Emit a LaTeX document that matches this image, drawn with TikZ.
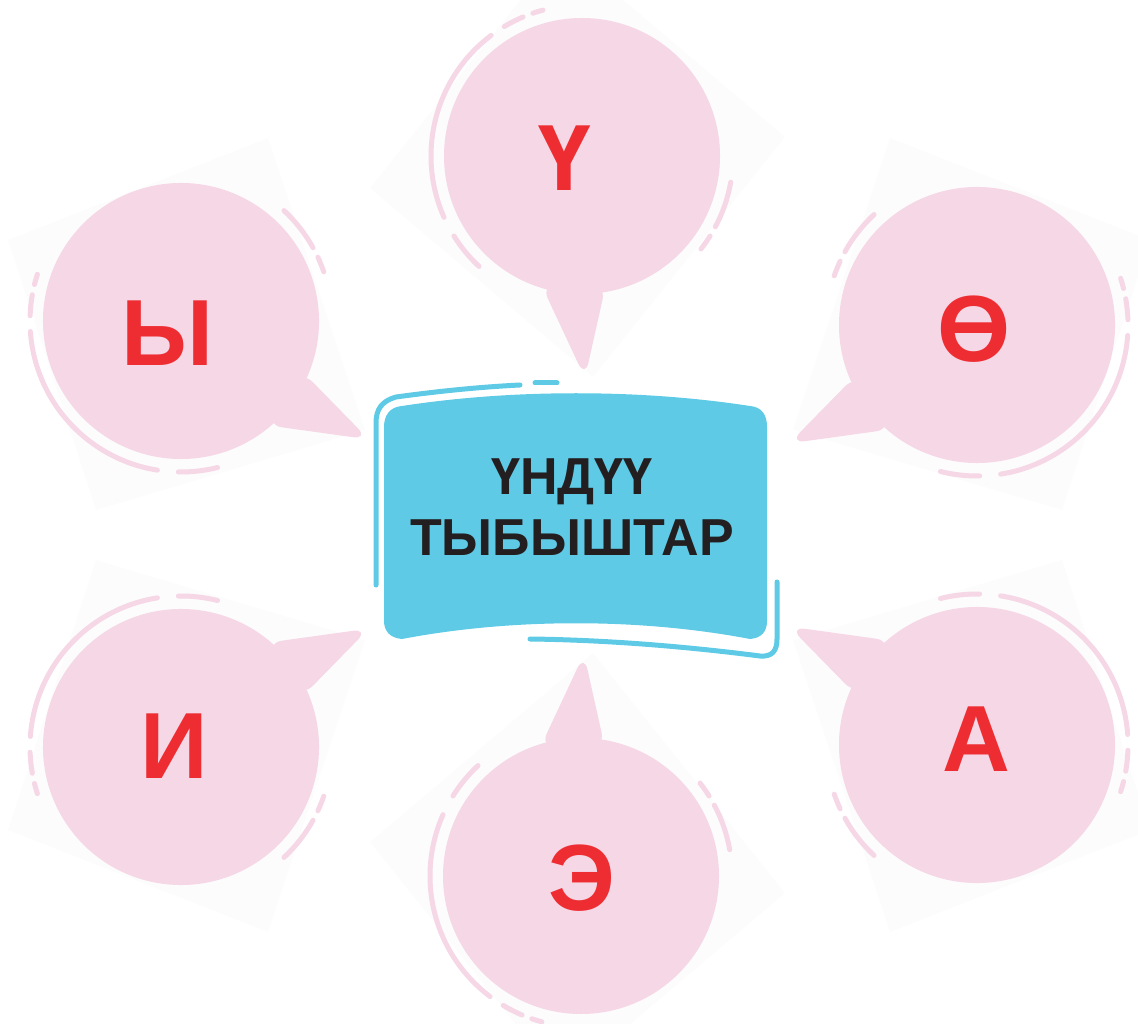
\documentclass[tikz,border=0pt]{standalone}
\usepackage{fontspec}
\setmainfont{Liberation Sans}
\usepackage{tikz}
\usetikzlibrary{calc,positioning}
\definecolor{bubblepink}{HTML}{F6D7E6}
\definecolor{letterred}{HTML}{EE2D32}
\definecolor{boxblue}{HTML}{5ECAE6}
\definecolor{titleink}{HTML}{231F20}
\definecolor{squaregray}{HTML}{FCFCFC}

\tikzset{
  bubble/.pic={
    \fill[bubblepink] (0,0) circle[radius=138];
    \fill[bubblepink,rounded corners=8] (-41,-128) -- (3,-222) -- (24,-128) -- cycle;
    \foreach \a/\b in {127/204,113/121,105/109,212/227,-28/-10,-38/-32}
      \draw[bubblepink,line width=2.5pt,line cap=round] (\a:151) arc[start angle=\a,end angle=\b,radius=151];
  },
  letter/.style={text=letterred,font=\bfseries\fontsize{47}{50}\selectfont,inner sep=0pt},
  frameline/.style={boxblue,line width=2.5pt,line cap=round},
  backsquare/.style={fill=squaregray}
}

\begin{document}
\begin{tikzpicture}[x=0.5pt,y=0.5pt]
    \useasboundingbox (0,0) rectangle (1138,1023);
    % faint squares behind the bubbles
    \path[backsquare] (370,835) -- (562,1075) -- (785,886) -- (593,646) -- cycle;
    \path[backsquare] (370,181) -- (593,370) -- (785,130) -- (562,-59) -- cycle;
    \path[backsquare] (8,783) -- (268,885) -- (365,593) -- (96,513) -- cycle;
    \path[backsquare] (1150,783) -- (890,885) -- (793,593) -- (1062,513) -- cycle;
    \path[backsquare] (8,193) -- (268,91) -- (365,383) -- (96,463) -- cycle;
    \path[backsquare] (1150,193) -- (890,91) -- (793,383) -- (1062,463) -- cycle;
    % bubbles
    \pic at (582,867) {bubble};
    \pic[rotate=57] at (181,702) {bubble};
    \pic[xscale=-1,rotate=57] at (977,698) {bubble};
    \pic[yscale=-1,rotate=57] at (181,276) {bubble};
    \pic[rotate=237] at (977,278) {bubble};
    \pic[yscale=-1] at (581,147) {bubble};
    \node[letter] (U) at (565,865) {Ү};
    \node[letter] (Y) at (167.5,689.5) {Ы};
    \node[letter] (O) at (974.5,694) {Ө};
    \node[letter] (A) at (976.5,283.5) {А};
    \node[letter] (I) at (174,277) {И};
    \node[letter] (E) at (582,145) {Э};
    % centre box
    \fill[boxblue] (384,402) -- (384,596) .. controls (384,608) and (390,616) .. (402,617)
      .. controls (512,634) and (640,634) .. (750,617) .. controls (762,616) and (767,608) .. (767,596)
      -- (767,402) .. controls (767,392) and (762,385) .. (750,384)
      .. controls (640,405) and (512,405) .. (402,384) .. controls (390,385) and (384,392) .. (384,402) -- cycle;
    \draw[frameline] (376,438) -- (376,600) .. controls (376,614) and (382,622) .. (396,626)
      .. controls (440,632) and (480,636) .. (520,638);
    \draw[frameline] (535,640) -- (557,640);
    \draw[frameline] (530,384) .. controls (610,383) and (690,376) .. (760,367)
      .. controls (772,366) and (777,372) .. (777,384) -- (777,441);
    \node[font=\bfseries\fontsize{26}{30.5}\selectfont,text=titleink,align=center] (T) at (572,515.5) {ҮНДҮҮ\\ТЫБЫШТАР};
\end{tikzpicture}
\end{document}
